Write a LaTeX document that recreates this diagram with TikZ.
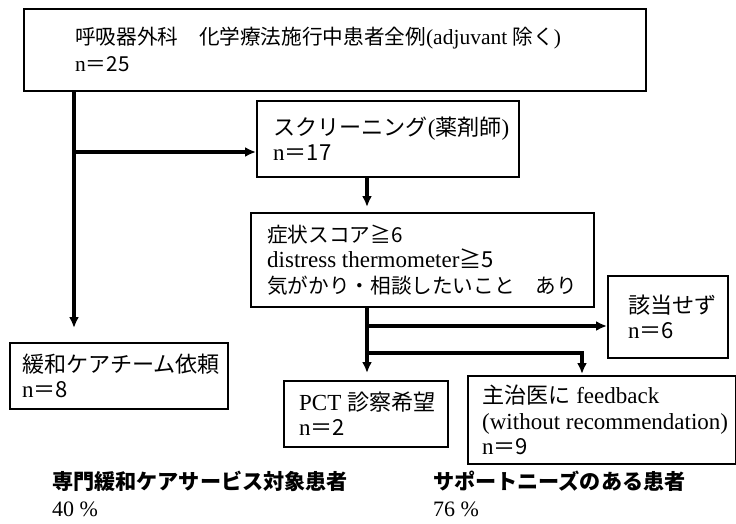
\documentclass[tikz,border=0pt]{standalone}
\usepackage{fontspec}
\setmainfont{Liberation Serif}
\newfontfamily\jp{Noto Sans CJK JP}[Scale=0.96]
\newcommand{\J}[1]{{\jp #1}}
\newcommand{\Js}[1]{{\jp\fontsize{21.5}{25.5}\selectfont #1}}
\usetikzlibrary{arrows.meta,calc}
\begin{document}
\begin{tikzpicture}[x=1pt,y=-1pt,
  box/.style={draw, line width=1.8pt, inner sep=0pt, anchor=north west},
  txt/.style={inner sep=0pt, anchor=west, align=left, font=\fontsize{23}{25.5}\selectfont},
  arr/.style={line width=3.4pt, -{Latex[length=11pt,width=10pt]}}]
\useasboundingbox (0,0) rectangle (736,524);
% boxes
\node[box, minimum width=622pt, minimum height=82pt] (b1) at (23,8) {};
\node[box, minimum width=262pt, minimum height=76pt] (b2) at (256,100) {};
\node[box, minimum width=343pt, minimum height=94pt] (b3) at (250,212) {};
\node[box, minimum width=218pt, minimum height=66pt] (b4) at (9,342) {};
\node[box, minimum width=120pt, minimum height=82pt] (b5) at (607,275) {};
\node[box, minimum width=164pt, minimum height=66pt] (b6) at (283,380) {};
\node[box, minimum width=268pt, minimum height=88pt] (b7) at (467,375) {};
% texts
\node[txt, font=\fontsize{21.5}{27}\selectfont] (t1) at ($(b1.west)+(52,0)$)
  {\J{呼吸器外科　化学療法施行中患者全例}(adjuvant \J{除く})\\ n\J{＝25}};
\node[txt] (t2) at ($(b2.west)+(17,0)$) {\J{スクリーニング}(\J{薬剤師})\\ n\J{＝17}};
\node[txt] (t3) at ($(b3.west)+(17,0)$) {\Js{症状スコア≧6}\\ distress thermometer\J{≧5}\\ \Js{気がかり・相談したいこと　あり}};
\node[txt] (t4) at ($(b4.west)+(13,0)$) {\J{緩和ケアチーム依頼}\\ n\J{＝8}};
\node[txt] (t5) at ($(b5.west)+(21,0)$) {\J{該当せず}\\ n\J{＝6}};
\node[txt] (t6) at ($(b6.west)+(16,0)$) {PCT \J{診察希望}\\ n\J{＝2}};
\node[txt] (t7) at ($(b7.west)+(15,0)$) {\J{主治医に} feedback\\ (without recommendation)\\ n\J{＝9}};
\node[txt, anchor=north west, font=\fontsize{22}{27}\selectfont] (s1) at (52,471)
  {\J{\bfseries 専門緩和ケアサービス対象患者}\\ 40 \%};
\node[txt, anchor=north west, font=\fontsize{22}{27}\selectfont] (s2) at (433,471)
  {\J{\bfseries サポートニーズのある患者}\\ 76 \%};
% connectors
\coordinate (j1) at (74,152);
\coordinate (cx) at (367,0);
\coordinate (j3) at (367,326);
\coordinate (j4) at (367,353);
\coordinate (j5) at (582,353);
\draw[arr, shorten >=14pt] (b1.south -| j1) -- (b4.north -| j1);
\draw[arr] (j1) -- (j1 -| b2.west);
\draw[arr, shorten >=5pt] (b2.south -| cx) -- (b3.north -| cx);
\draw[arr, shorten >=7pt] (b3.south -| cx) -- (b6.north -| cx);
\draw[arr] (j3) -- (j3 -| b5.west);
\draw[arr, shorten >=1pt] (j4) -- (j5) -- (j5 |- b7.north);
\end{tikzpicture}
\end{document}
